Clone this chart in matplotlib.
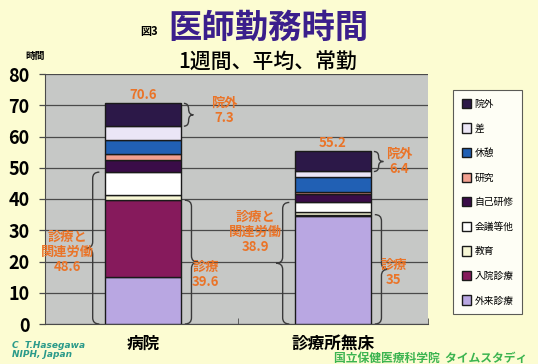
import numpy as np
import matplotlib
matplotlib.use("Agg")
import matplotlib.pyplot as plt
from matplotlib.patches import Patch, PathPatch
from matplotlib.path import Path

plt.rcParams['font.family'] = ['Noto Sans CJK JP', 'DejaVu Sans']

# 勤務時間の内訳 (時間/週)
categories = ["病院", "診療所無床"]
items = ["外来診療", "入院診療", "教育", "会議等他", "自己研修", "研究", "休憩", "差", "院外"]
hours = {
    "外来診療": [15.2, 34.5],
    "入院診療": [24.4, 0.5],
    "教育":     [1.8, 0.7],
    "会議等他": [7.2, 3.2],
    "自己研修": [3.8, 2.6],
    "研究":     [2.0, 0.6],
    "休憩":     [4.6, 5.0],
    "差":       [4.3, 1.7],
    "院外":     [7.3, 6.4],
}
colors = {
    "外来診療": "#b9a7e2",
    "入院診療": "#861a5c",
    "教育":     "#f8f8d6",
    "会議等他": "#ffffff",
    "自己研修": "#3a0c48",
    "研究":     "#f2a090",
    "休憩":     "#2160b4",
    "差":       "#ebe6f6",
    "院外":     "#2c1848",
}
legend_order = ["院外", "差", "休憩", "研究", "自己研修", "会議等他", "教育", "入院診療", "外来診療"]

orange = "#ea7428"
bg_yellow = "#fcfcd2"

fig = plt.figure(figsize=(5.38, 3.64), dpi=100, facecolor=bg_yellow)
ax = fig.add_axes([45 / 538, 40 / 364, 383 / 538, 250 / 364])
ax.set_facecolor("#c6c8c6")

x = np.arange(len(categories))
width = 0.40
bottom = np.zeros(len(categories))
for name in items:
    vals = np.array(hours[name])
    ax.bar(x, vals, width, bottom=bottom, color=colors[name],
           edgecolor="#1a1a1a", linewidth=1.0, zorder=3)
    bottom += vals

total = bottom
shinryo = np.array(hours["外来診療"]) + np.array(hours["入院診療"])
kanren = shinryo + np.array(hours["教育"]) + np.array(hours["会議等他"])
ingai = np.array(hours["院外"])

ax.set_xlim(-0.516, 1.4375)
ax.set_ylim(0, 80)
ax.set_yticks(range(0, 81, 10))
ax.yaxis.grid(True, color="#4a4a4a", linewidth=0.9, zorder=1)
ax.tick_params(axis="y", direction="out", length=4, width=0.9, color="#4a4a4a",
               pad=7, labelsize=13)
for lbl in ax.get_yticklabels():
    lbl.set_fontweight("bold")
ax.set_xticks(x)
ax.set_xticklabels(categories, fontsize=12, fontweight="bold")
ax.tick_params(axis="x", length=0, pad=8)
ax.set_xticks([0.5, 1.5], minor=True)
ax.tick_params(axis="x", which="minor", direction="in", length=4, color="#4a4a4a")
for side in ["top", "right"]:
    ax.spines[side].set_visible(False)
ax.spines["left"].set_color("#4a4a4a")
ax.spines["bottom"].set_color("#4a4a4a")


def brace(ax, x0, y0, y1, w, ym=None):
    # curly brace from y0 to y1, bulging toward x0 + w
    if ym is None:
        ym = (y0 + y1) / 2
    r = min(2.0, (y1 - y0) / 4)
    xm = x0 + w / 2
    verts = [(x0, y0), (xm, y0), (xm, y0 + r),
             (xm, ym - r), (xm, ym), (x0 + w, ym),
             (xm, ym), (xm, ym + r),
             (xm, y1 - r), (xm, y1), (x0, y1)]
    codes = [Path.MOVETO, Path.CURVE3, Path.CURVE3,
             Path.LINETO, Path.CURVE3, Path.CURVE3,
             Path.CURVE3, Path.CURVE3,
             Path.LINETO, Path.CURVE3, Path.CURVE3]
    ax.add_patch(PathPatch(Path(verts, codes), facecolor="none",
                           edgecolor="#3a3a3a", linewidth=1.0, zorder=4))


ann = dict(color=orange, fontsize=9.5, fontweight="bold", ha="center",
           va="center", linespacing=1.1, zorder=5)

for i in x:
    half = width / 2
    # totals above bars
    ax.text(i, total[i] + 0.4, f"{total[i]:.1f}", color=orange, fontsize=9.5,
            fontweight="bold", ha="center", va="bottom", zorder=5)
    # 院外
    brace(ax, i + half + 0.015, total[i] - ingai[i], total[i], 0.05)
    # 診療
    brace(ax, i + half + 0.02, 0, shinryo[i], 0.07)
    # 診療と関連労働
    brace(ax, i - half - 0.03, 0, kanren[i], -0.07)

ax.text(0.43, total[0] - ingai[0] / 2 + 1.5, f"院外\n{ingai[0]:.1f}", **ann)
ax.text(1.35, total[1] - ingai[1] / 2, f"院外\n{ingai[1]:.1f}", **ann)
ax.text(0.33, 16, f"診療\n{shinryo[0]:.1f}", **ann)
ax.text(1.32, 16.5, f"診療\n{shinryo[1]:g}", **ann)
ax.text(-0.40, 23, f"診療と\n関連労働\n{kanren[0]:.1f}", **ann)
ax.text(0.59, 29.5, f"診療と\n関連労働\n{kanren[1]:.1f}", **ann)

handles = [Patch(facecolor=colors[n], edgecolor="#1a1a1a", linewidth=1.0)
           for n in legend_order]
leg = fig.legend(handles, legend_order, loc="upper left",
                 bbox_to_anchor=(453 / 538, 1 - 90 / 364), fontsize=7,
                 frameon=True, fancybox=False, edgecolor="#333333",
                 handlelength=0.9, handleheight=1.1, handletextpad=0.4,
                 labelspacing=1.5, borderpad=0.9, borderaxespad=0)
leg.get_frame().set_linewidth(0.8)

# titles
fig.text(168 / 538, 1 - 28 / 364, "医師勤務時間", fontsize=24, color="#3b1f8c",
         fontweight="bold", ha="left", va="center")
fig.text(140 / 538, 1 - 31 / 364, "図3", fontsize=8, fontweight="bold",
         ha="left", va="center")
fig.text(178 / 538, 1 - 63 / 364, "1週間、平均、常勤", fontsize=15,
         fontweight="medium", ha="left", va="center")
fig.text(25 / 538, 1 - 56 / 364, "時間", fontsize=7, fontweight="bold",
         ha="left", va="center")

fig.text(12 / 538, 1 - 350 / 364, "C  T.Hasegawa\nNIPH, Japan", fontsize=6.5,
         color="#2a9a8a", style="italic", fontweight="bold", ha="left",
         va="center", linespacing=1.0, family="DejaVu Sans")
fig.text(334 / 538, 1 - 358 / 364, "国立保健医療科学院  タイムスタディ",
         fontsize=8.5, color="#3cb450", fontweight="bold", ha="left", va="center")

fig.savefig("out.png", dpi=100, facecolor=bg_yellow)
